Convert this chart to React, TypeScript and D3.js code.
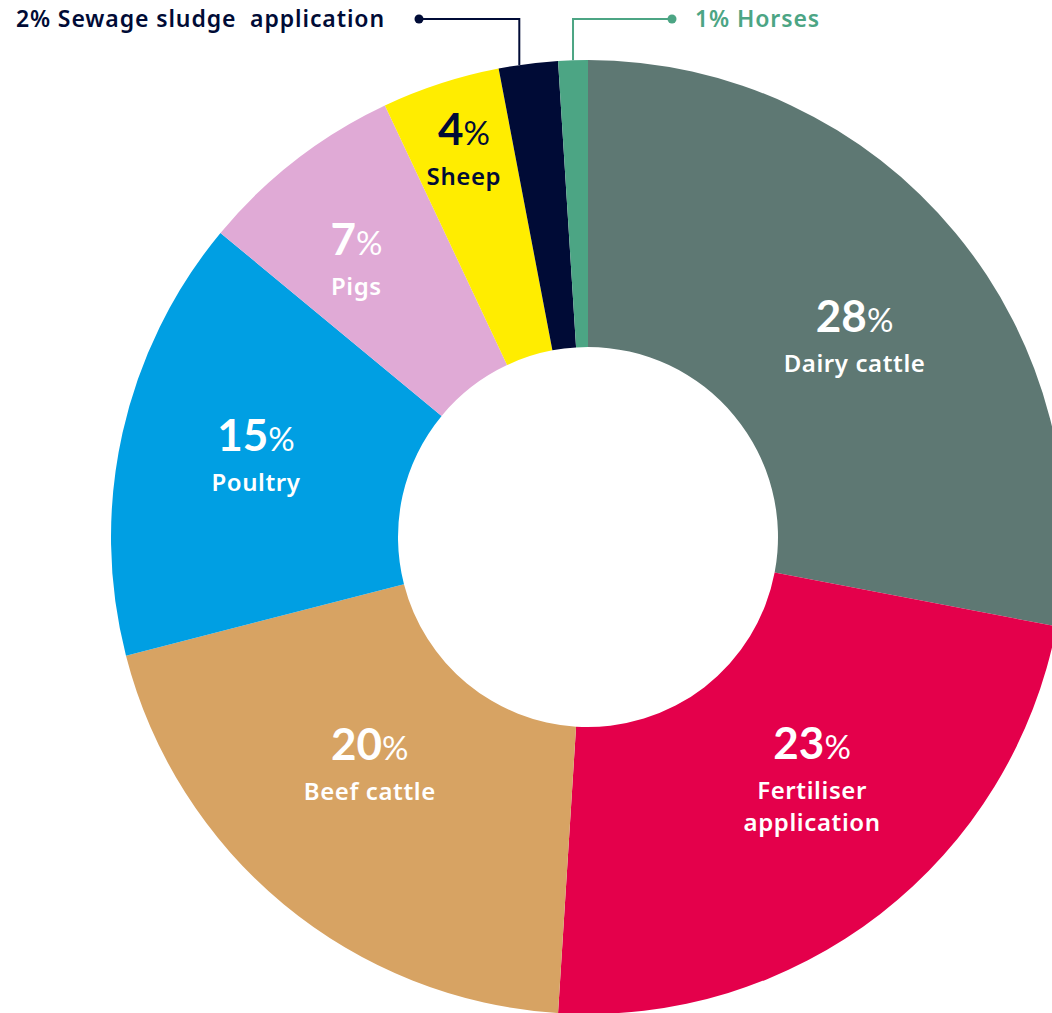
import React, { useEffect, useRef } from 'react';
import * as d3 from 'd3';

const categories = ['Dairy cattle', 'Fertiliser application', 'Beef cattle', 'Poultry', 'Pigs', 'Sheep', 'Sewage sludge  application', 'Horses'];
const shares = [28, 23, 20, 15, 7, 4, 2, 1];
const colors = ['#5e7873', '#e4004b', '#d7a363', '#009fe3', '#e0aad6', '#ffed00', '#000b36', '#4ca584'];
// name lines for labels drawn inside the ring
const nameLines = [['Dairy cattle'], ['Fertiliser', 'application'], ['Beef cattle'], ['Poultry'], ['Pigs'], ['Sheep']];

const W = 1052;
const H = 1013;
const NUM_FONT = 'Lato, "Noto Sans", sans-serif';
const NAME_FONT = '"Noto Sans", Lato, sans-serif';
const DARK = '#000b36';

// hand tweaks so the inside labels sit where the original puts them
const labelNudge = [[10, 11], [20, -21], [-6, -30], [-7, -9], [-11, 6], [2, 0]];

export default function App() {
  const svgRef = useRef<SVGSVGElement>(null);

  useEffect(() => {
    const svg = d3.select(svgRef.current);
    svg.selectAll('*').remove();

    const cx = 588;
    const cy = 537;
    const outer = 477;
    const inner = 190;

    const data = categories.map((name, i) => ({ name, value: shares[i], color: colors[i] }));
    const arcs = d3.pie<any>().sort(null).value((d) => d.value)(data);
    const arc = d3.arc<any>().innerRadius(inner).outerRadius(outer);

    const g = svg.append('g').attr('transform', `translate(${cx},${cy})`);

    g.selectAll('path')
      .data(arcs)
      .enter()
      .append('path')
      .attr('d', arc)
      .attr('fill', (d) => d.data.color);

    // labels inside the ring
    const labelRadius = (v) => (v >= 10 ? 333 : v >= 5 ? 360 : 408);
    arcs.slice(0, nameLines.length).forEach((a, i) => {
      const mid = (a.startAngle + a.endAngle) / 2;
      const r = labelRadius(a.data.value);
      const x = r * Math.sin(mid) + labelNudge[i][0];
      const y = -r * Math.cos(mid) + labelNudge[i][1];
      const lines = nameLines[i];
      const fill = a.data.value === 4 ? DARK : '#fff';
      const blockH = 72 + (lines.length - 1) * 32;
      const top = y - blockH / 2;
      const lab = g.append('g').attr('fill', fill).attr('text-anchor', 'middle');
      const num = lab.append('text').attr('x', x).attr('y', top + 32).style('font-family', NUM_FONT);
      num.append('tspan').style('font-size', '44px').style('font-weight', 700).text(a.data.value);
      num.append('tspan').style('font-size', '33px').style('font-weight', 400).text('%');
      lines.forEach((ln, j) => {
        lab.append('text')
          .attr('x', x)
          .attr('y', top + 72 + j * 32)
          .style('font-family', NAME_FONT)
          .style('font-size', '24px')
          .style('font-weight', 600)
          .style('letter-spacing', '0.6px')
          .text(ln);
      });
    });

    // leader labels for the two thin slices
    const leaderY = 19;
    const leaders = [
      { idx: 6, frac: 0.35, dotX: 419, anchor: 'end', textX: 385 },
      { idx: 7, frac: 0.5, dotX: 672, anchor: 'start', textX: 695 },
    ];
    leaders.forEach((l) => {
      const a = arcs[l.idx];
      const ang = a.startAngle + (a.endAngle - a.startAngle) * l.frac;
      const px = outer * Math.sin(ang);
      const py = -outer * Math.cos(ang);
      const col = a.data.color;
      g.append('path')
        .attr('d', `M${l.dotX - cx},${leaderY - cy}H${px}V${py}`)
        .attr('fill', 'none')
        .attr('stroke', col)
        .attr('stroke-width', 2);
      g.append('circle').attr('cx', l.dotX - cx).attr('cy', leaderY - cy).attr('r', 4.5).attr('fill', col);
      g.append('text')
        .attr('x', l.textX - cx)
        .attr('y', leaderY + 8 - cy)
        .attr('text-anchor', l.anchor)
        .attr('fill', col)
        .style('font-family', NAME_FONT)
        .style('font-size', '23px')
        .style('font-weight', 600)
        .style('letter-spacing', '0.9px')
        .style('white-space', 'pre')
        .text(`${a.data.value}% ${a.data.name}`);
    });
  }, []);

  return (
    <div style={{ position: 'absolute', left: 0, top: 0, width: W, height: H, background: '#fff' }}>
      <svg ref={svgRef} width={W} height={H} style={{ display: 'block' }} />
    </div>
  );
}
